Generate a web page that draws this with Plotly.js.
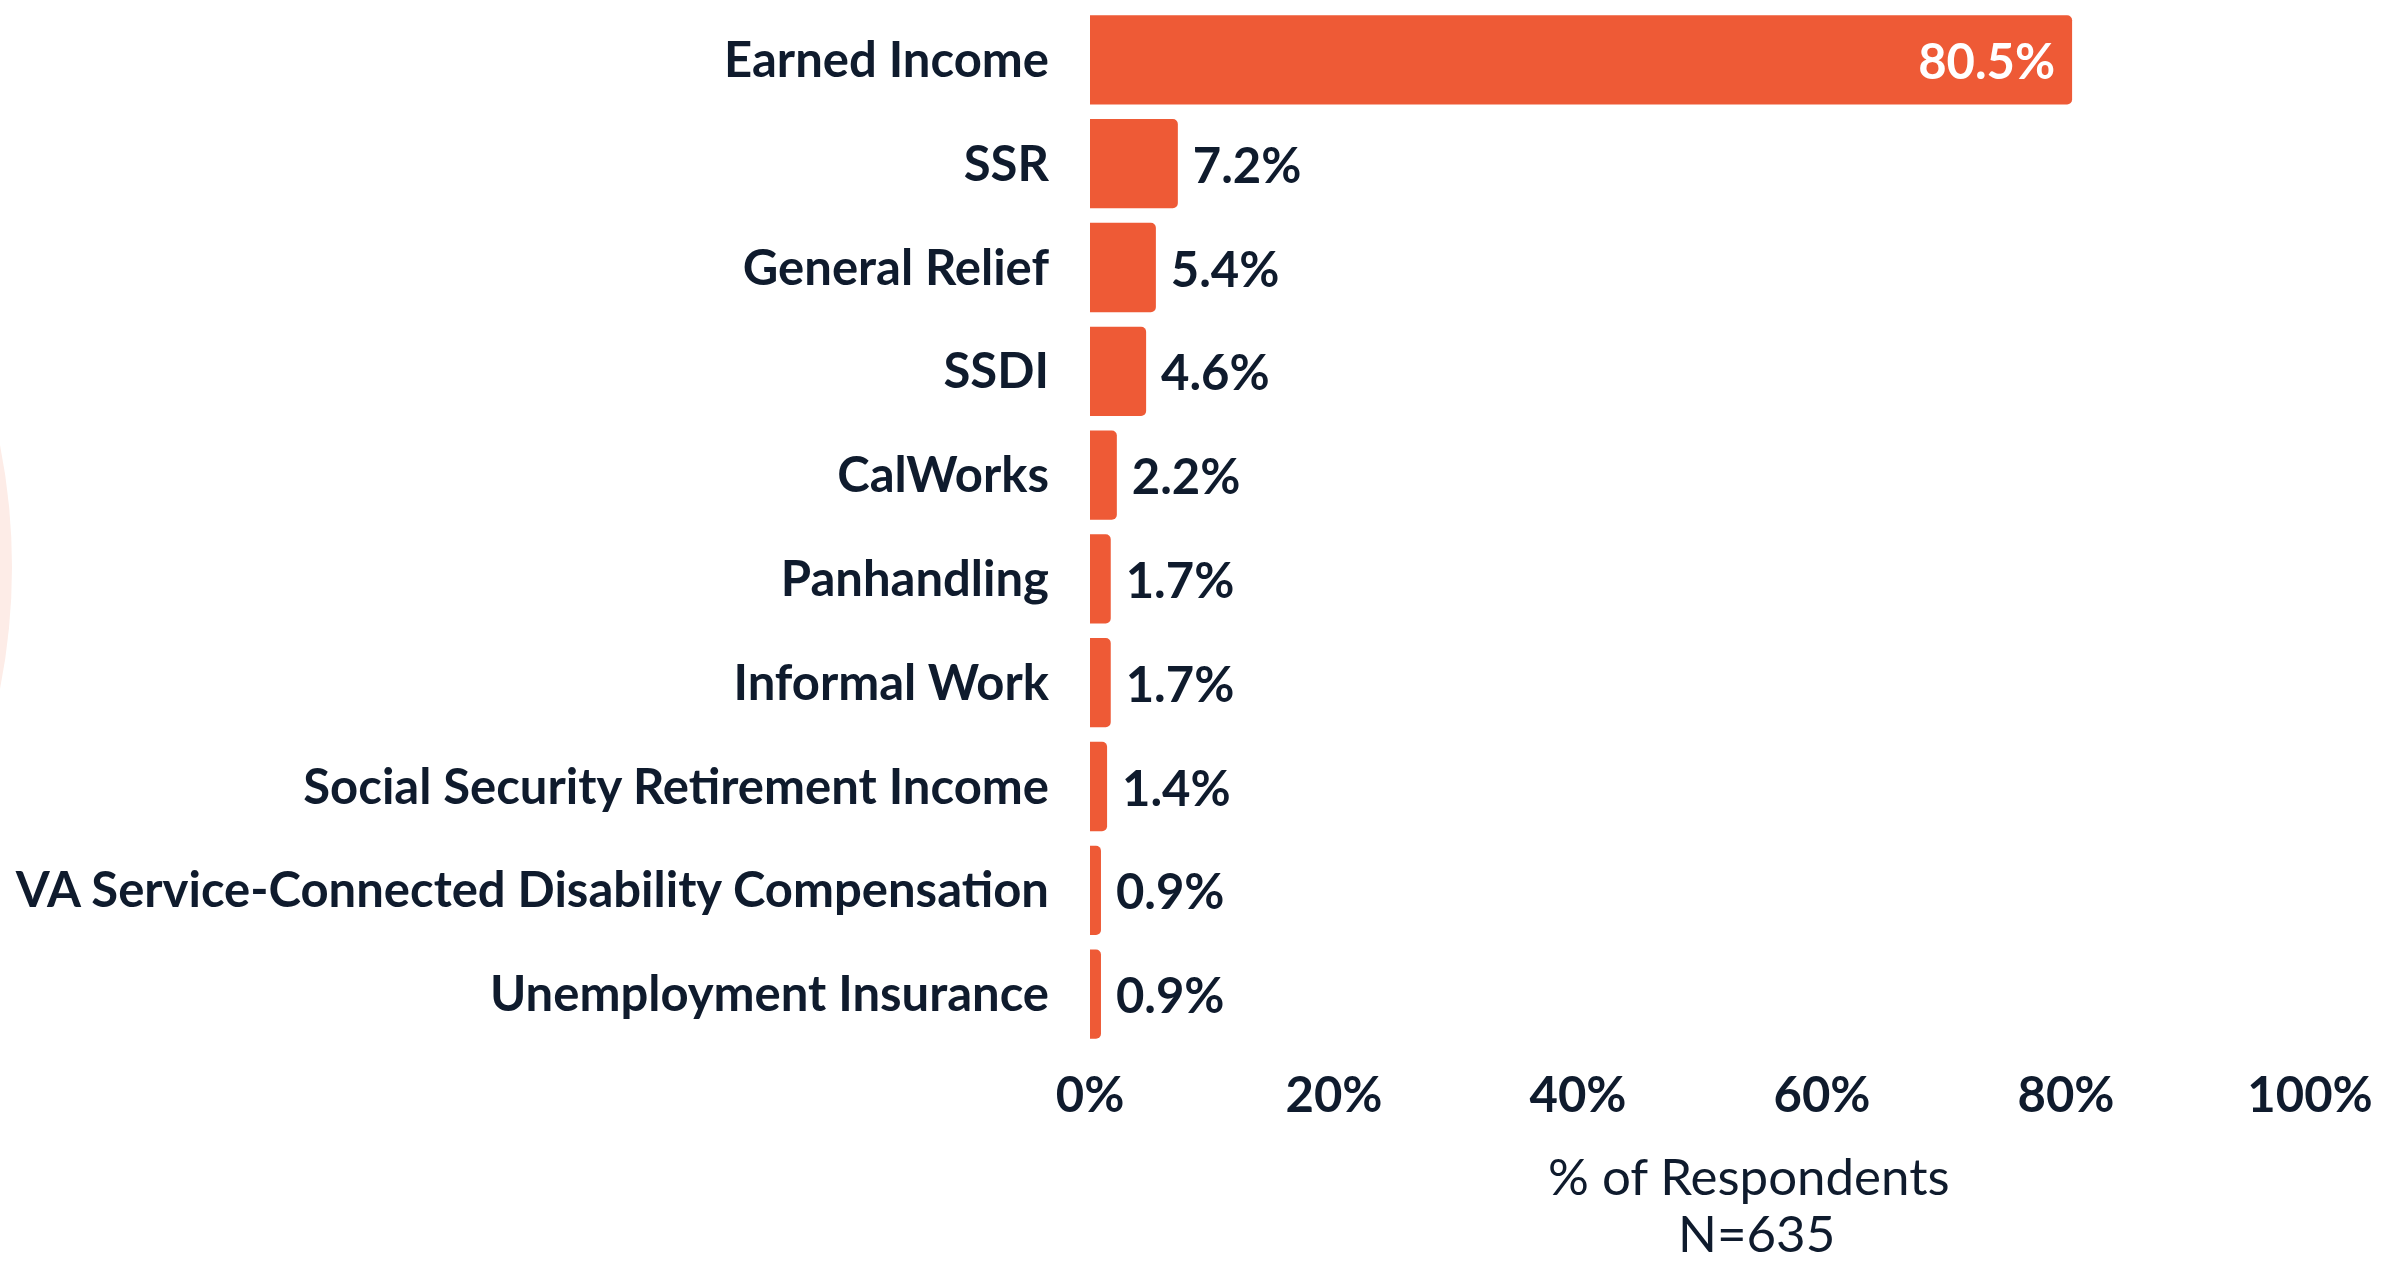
<!DOCTYPE html>
<html>
<head>
<meta charset="utf-8">
<script src="https://cdn.plot.ly/plotly-3.0.1.min.js"></script>
<style>
  html, body { margin: 0; padding: 0; background: #ffffff; }
  #chart { width: 2405px; height: 1263px; }
</style>
</head>
<body>
<div id="chart"></div>
<script>
const categories = [
  "Earned Income",
  "SSR",
  "General Relief",
  "SSDI",
  "CalWorks",
  "Panhandling",
  "Informal Work",
  "Social Security Retirement Income",
  "VA Service-Connected Disability Compensation",
  "Unemployment Insurance"
];
const values = [80.5, 7.2, 5.4, 4.6, 2.2, 1.7, 1.7, 1.4, 0.9, 0.9];
const tickValues = [0, 20, 40, 60, 80, 100];
const tickLabels = ["0%", "20%", "40%", "60%", "80%", "100%"];
const axisTitle = "% of Respondents";
const sampleNote = "N=635";

const W = 2405, H = 1263;
const mL = 1090, mR = 95, mT = 8, mB = 217;
const pw = W - mL - mR, ph = H - mT - mB;
const px = v => (v - mL) / pw;
const py = v => (H - mB - v) / ph;

const dark = "#0f1b2d";
const barColor = "#ee5a36";
const labelFont = "Lato, 'Open Sans', sans-serif";

const isBig = values.map(v => v > 20);

const trace = {
  type: "bar",
  orientation: "h",
  x: values,
  y: categories,
  marker: { color: barColor },
  text: values.map(v => v.toFixed(1) + "%"),
  texttemplate: isBig.map(b => b ? "%{text} " : " %{text}"),
  textposition: isBig.map(b => b ? "inside" : "outside"),
  insidetextanchor: "end",
  textfont: {
    family: labelFont,
    size: isBig.map(b => b ? 50 : 49),
    color: isBig.map(b => b ? "#ffffff" : dark),
    weight: 700
  },
  cliponaxis: false,
  hoverinfo: "skip"
};

const layout = {
  width: W,
  height: H,
  margin: { l: mL, r: mR, t: mT, b: mB, pad: 0 },
  paper_bgcolor: "#ffffff",
  plot_bgcolor: "rgba(0,0,0,0)",
  showlegend: false,
  bargap: 0.14,
  barcornerradius: 5,
  uniformtext: { mode: "show", minsize: 10 },
  xaxis: {
    range: [0, 100],
    tickvals: tickValues,
    ticktext: tickLabels,
    showgrid: false,
    zeroline: false,
    showline: false,
    ticks: "",
    ticklabelstandoff: 16,
    tickfont: { family: labelFont, size: 49, color: dark, weight: 700 },
    fixedrange: true
  },
  yaxis: {
    autorange: "reversed",
    showgrid: false,
    zeroline: false,
    showline: false,
    ticks: "",
    ticklabelstandoff: 40,
    tickfont: { family: labelFont, size: 49, color: dark, weight: 700 },
    fixedrange: true
  },
  shapes: [{
    type: "circle",
    xref: "paper", yref: "paper",
    x0: px(-1240), x1: px(12),
    y0: py(1193), y1: py(-59),
    fillcolor: "#fdece7",
    line: { width: 0 },
    layer: "below"
  }],
  annotations: [
    {
      text: axisTitle,
      xref: "paper", yref: "paper",
      x: px(1749), y: py(1175),
      xanchor: "center", yanchor: "middle",
      showarrow: false,
      font: { family: labelFont, size: 51, color: dark, weight: 400 }
    },
    {
      text: sampleNote,
      xref: "paper", yref: "paper",
      x: px(1756), y: py(1232),
      xanchor: "center", yanchor: "middle",
      showarrow: false,
      font: { family: labelFont, size: 51, color: dark, weight: 400 }
    }
  ]
};

Plotly.newPlot("chart", [trace], layout, { displayModeBar: false, staticPlot: true });
</script>
</body>
</html>
